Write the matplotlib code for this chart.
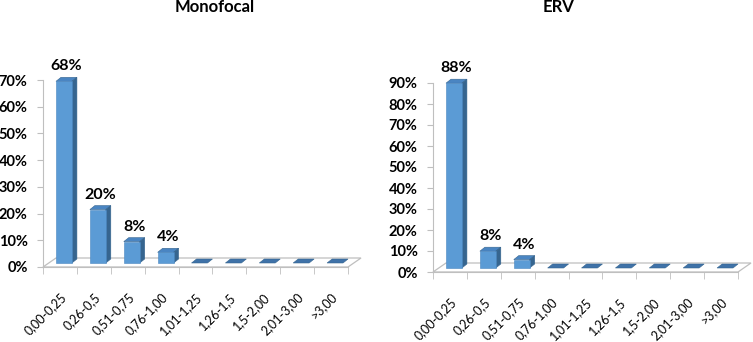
"""Two pseudo-3D column charts: distribution of values for Monofocal and ERV."""
import matplotlib

matplotlib.use("Agg")

import matplotlib.pyplot as plt
from matplotlib.patches import Polygon

plt.rcParams["font.family"] = ["Lato", "DejaVu Sans"]

categories = [
    "0,00-0,25", "0,26-0,5", "0,51-0,75", "0,76-1,00", "1,01-1,25",
    "1,26-1,5", "1,5-2,00", "2,01-3,00", ">3,00",
]
monofocal = [68, 20, 8, 4, 0, 0, 0, 0, 0]
erv = [88, 8, 4, 0, 0, 0, 0, 0, 0]

FRONT = "#5b9bd5"
SIDE = "#36658f"
TOP = "#4a85c2"
FLAT = "#3f72a8"
GRID = "#bfbfbf"

W, H = 753, 342


def draw_panel(fig, box, values, ymax, title, title_x):
    """box = (left px, right px, bottom px, top px) of the front plane."""
    x0, x1, yb, yt = box
    ax = fig.add_axes([x0 / W, (H - yb) / H, (x1 - x0) / W, (yb - yt) / H])
    ax.set_xlim(-0.5, len(values) - 0.5)
    ax.set_ylim(0, ymax)
    ax.patch.set_visible(False)

    px_x = (x1 - x0) / len(values)   # pixels per category
    px_y = (yb - yt) / ymax          # pixels per percent

    def off(dx, dy):
        return dx / px_x, dy / px_y

    # floor (depth offset about 13 x 9 px)
    fx, fy = off(13, 9)
    n = len(values)
    floor = Polygon(
        [(-0.5, 0), (n - 0.5, 0), (n - 0.5 + fx, fy), (-0.5 + fx, fy)],
        closed=True, facecolor="white", edgecolor=GRID, lw=0.9,
        clip_on=False, zorder=1,
    )
    ax.add_patch(floor)

    bw = 0.47
    sx, sy = off(4, 4)   # bar front shift
    dx, dy = off(5, 4)   # bar depth
    for i, v in enumerate(values):
        l = i - bw / 2 + sx
        r = i + bw / 2 + sx
        b = sy
        t = sy + v
        top = Polygon([(l, t), (r, t), (r + dx, t + dy), (l + dx, t + dy)],
                      closed=True, facecolor=TOP if v > 0 else FLAT,
                      edgecolor=SIDE, lw=0.4, clip_on=False, zorder=3)
        ax.add_patch(top)
        if v > 0:
            side = Polygon([(r, b), (r + dx, b + dy), (r + dx, t + dy), (r, t)],
                           closed=True, facecolor=SIDE, edgecolor=SIDE,
                           lw=0.4, clip_on=False, zorder=3)
            ax.add_patch(side)
            ax.bar(i + sx, v, bottom=b, width=bw, color=FRONT,
                   edgecolor="#4a86c0", lw=0.4, zorder=4, clip_on=False)
            ax.text(i + sx + dx / 2, t + dy + 4 / px_y, f"{v}%",
                    ha="center", va="bottom", fontsize=11.5,
                    fontweight="bold", zorder=5)

    for s in ("top", "right"):
        ax.spines[s].set_visible(False)
    ax.spines["left"].set_color(GRID)
    ax.spines["bottom"].set_color(GRID)

    ax.set_yticks(range(0, ymax + 1, 10))
    ax.set_yticklabels([f"{t}%" for t in range(0, ymax + 1, 10)],
                       fontsize=10.5, fontweight="bold")
    ax.tick_params(axis="y", length=4, color=GRID, pad=7)

    ax.set_xticks(range(n))
    ax.set_xticklabels(categories, rotation=45, ha="right",
                       rotation_mode="anchor", fontsize=9)
    ax.tick_params(axis="x", which="major", length=0, pad=17)
    ax.set_xticks([k - 0.5 for k in range(n + 1)], minor=True)
    ax.tick_params(axis="x", which="minor", length=5, color=GRID)

    fig.text(title_x / W, 1 - 7 / H, title, ha="center",
             va="center", fontsize=12, fontweight="bold")
    return ax


fig = plt.figure(figsize=(W / 100, H / 100), dpi=100)
draw_panel(fig, (43, 348, 267, 80), monofocal, 70, "Monofocal", 215)
draw_panel(fig, (433, 738, 272, 83), erv, 90, "ERV", 558)

fig.savefig("out.png", dpi=100)
plt.close(fig)
